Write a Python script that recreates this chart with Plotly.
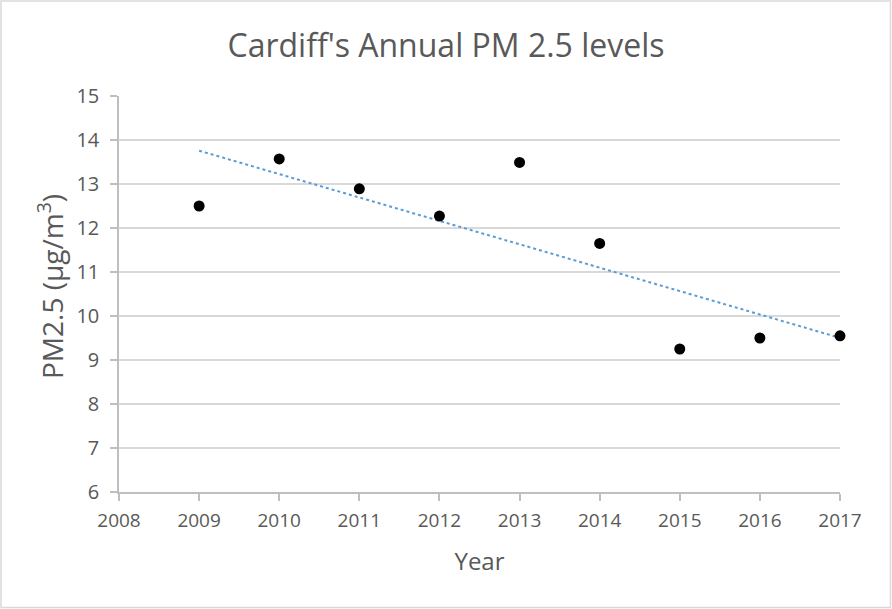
import numpy as np
import plotly.graph_objects as go

years = [2009, 2010, 2011, 2012, 2013, 2014, 2015, 2016, 2017]
pm25 = [12.5, 13.57, 12.89, 12.27, 13.49, 11.65, 9.25, 9.5, 9.55]

x_ticks = list(range(2008, 2018))
y_ticks = list(range(6, 16))

slope, intercept = np.polyfit(years, pm25, 1)
trend_x = [years[0], years[-1]]
trend_y = [slope * x + intercept for x in trend_x]

font_family = "Open Sans, Liberation Sans, sans-serif"
text_color = "#595959"

fig = go.Figure()
fig.add_trace(go.Scatter(
    x=trend_x, y=trend_y, mode="lines",
    line=dict(color="#5b9bd5", width=2, dash="dot"),
    hoverinfo="skip", showlegend=False, cliponaxis=False,
))
fig.add_trace(go.Scatter(
    x=years, y=pm25, mode="markers",
    marker=dict(color="black", size=11),
    showlegend=False, cliponaxis=False,
))

W, H = 892, 609
ml, mr, mt, mb = 119, 52, 96, 117
pw, ph = W - ml - mr, H - mt - mb

def px(xp):
    return (xp - ml) / pw

def py(yp):
    return (H - mb - yp) / ph

fig.add_shape(type="rect", xref="paper", yref="paper",
              x0=px(1), x1=px(890.5), y0=py(607.5), y1=py(1),
              line=dict(color="#d9d9d9", width=1.5), layer="below")

fig.add_annotation(text="PM2.5 (µg/m<sup>3</sup>)", textangle=-90,
                   xref="paper", yref="paper", x=px(50), y=py(287),
                   xanchor="center", yanchor="middle", showarrow=False,
                   font=dict(size=28, color=text_color))

fig.update_layout(
    width=W, height=H,
    margin=dict(l=ml, r=mr, t=mt, b=mb),
    paper_bgcolor="white", plot_bgcolor="white",
    font=dict(family=font_family, color=text_color, size=19),
    title=dict(text="Cardiff's Annual PM 2.5 levels",
               x=0.5, xref="container", xanchor="center",
               y=1 - 46 / H, yanchor="middle",
               font=dict(size=32, color=text_color)),
    xaxis=dict(range=[2008, 2017], tickvals=x_ticks,
               showgrid=False, zeroline=False,
               showline=True, linecolor="#bfbfbf", linewidth=1.5,
               ticks="outside", ticklen=7, tickcolor="#bfbfbf", tickwidth=1.5,
               ticklabelstandoff=3,
               tickfont=dict(size=19, color=text_color),
               title=dict(text="Year", font=dict(size=24, color=text_color), standoff=22)),
    yaxis=dict(range=[6, 15], tickvals=y_ticks,
               showgrid=True, gridcolor="#d9d9d9", gridwidth=1.5,
               zeroline=False,
               showline=True, linecolor="#bfbfbf", linewidth=1.5,
               ticks="outside", ticklen=7, tickcolor="#bfbfbf", tickwidth=1.5,
               ticklabelstandoff=7,
               tickfont=dict(size=20, color=text_color)),
)

fig.write_html("out.html")
